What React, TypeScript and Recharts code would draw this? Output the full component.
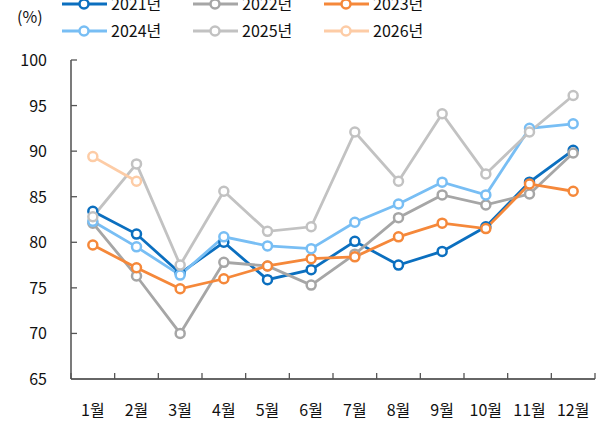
import { LineChart, Line, XAxis, YAxis } from "recharts";

const months = ["1월", "2월", "3월", "4월", "5월", "6월", "7월", "8월", "9월", "10월", "11월", "12월"];
const y2021 = [83.4, 80.9, 76.6, 80.0, 75.9, 77.0, 80.1, 77.5, 79.0, 81.7, 86.6, 90.1];
const y2022 = [82.1, 76.3, 70.0, 77.8, 77.4, 75.3, 78.7, 82.7, 85.2, 84.1, 85.3, 89.8];
const y2023 = [79.7, 77.2, 74.9, 76.0, 77.4, 78.2, 78.4, 80.6, 82.1, 81.5, 86.4, 85.6];
const y2024 = [82.3, 79.5, 76.4, 80.6, 79.6, 79.3, 82.2, 84.2, 86.6, 85.2, 92.5, 93.0];
const y2025 = [82.8, 88.6, 77.5, 85.6, 81.2, 81.7, 92.1, 86.7, 94.1, 87.5, 92.1, 96.1];
const y2026 = [89.4, 86.7];
const yTicks = [65, 70, 75, 80, 85, 90, 95, 100];

const SERIES = [
  { key: "2021년", color: "#0B6FBF", values: y2021 },
  { key: "2022년", color: "#A6A6A6", values: y2022 },
  { key: "2023년", color: "#F5883A", values: y2023 },
  { key: "2024년", color: "#78BEF4", values: y2024 },
  { key: "2025년", color: "#C2C2C2", values: y2025 },
  { key: "2026년", color: "#FDCCA6", values: y2026 },
];

const data = months.map((m, i) => {
  const row: Record<string, string | number | null> = { month: m };
  SERIES.forEach((s) => {
    row[s.key] = i < s.values.length ? s.values[i] : null;
  });
  return row;
});

const W = 602;
const H = 429;
const LEFT = 71;
const RIGHT = 595;
const TOP = 60;
const BOTTOM = 379;
const STEP = (RIGHT - LEFT) / months.length;
const FONT = "'Noto Sans CJK KR', 'Noto Sans', sans-serif";

const XTick = (props: any) => {
  const { x, index } = props;
  return (
    <g>
      <line x1={x - STEP / 2} x2={x - STEP / 2} y1={BOTTOM} y2={BOTTOM - 6} stroke="#555" strokeWidth={1.3} />
      {index === months.length - 1 && (
        <line x1={x + STEP / 2} x2={x + STEP / 2} y1={BOTTOM} y2={BOTTOM - 6} stroke="#555" strokeWidth={1.3} />
      )}
      <text x={x} y={BOTTOM + 37} textAnchor="middle" fontSize={16} fill="#111" fontFamily={FONT}>
        {props.payload.value}
      </text>
    </g>
  );
};

const YTick = (props: any) => {
  const { y, payload } = props;
  return (
    <g>
      {payload.value !== 65 && (
        <line x1={LEFT} x2={LEFT + 6} y1={y} y2={y} stroke="#555" strokeWidth={1.3} />
      )}
      <text x={47} y={y + 6} textAnchor="end" fontSize={16} fill="#111" fontFamily={FONT}>
        {payload.value}
      </text>
    </g>
  );
};

// legend drawn as an overlay so it doesn't take room from the plot
const LegendBox = () => (
  <svg width={W} height={50} style={{ position: "absolute", left: 0, top: 0, pointerEvents: "none" }}>
    <text x={17} y={23} fontSize={16} fill="#111" fontFamily={FONT}>
      (%)
    </text>
    {SERIES.map((s, i) => {
      const col = i % 3;
      const row = Math.floor(i / 3);
      const x0 = 62 + col * 131;
      const cy = 4 + row * 27;
      return (
        <g key={s.key}>
          <line x1={x0} x2={x0 + 45} y1={cy} y2={cy} stroke={s.color} strokeWidth={3} />
          <circle cx={x0 + 22} cy={cy} r={4.5} fill="#fff" stroke={s.color} strokeWidth={2.5} />
          <text x={x0 + 49} y={cy + 6} fontSize={16} fill="#111" fontFamily={FONT}>
            {s.key}
          </text>
        </g>
      );
    })}
  </svg>
);

export default function App() {
  return (
    <div style={{ position: "absolute", left: 0, top: 0, width: W, height: H, background: "#fff" }}>
      <LineChart
        width={W}
        height={H}
        data={data}
        margin={{ top: TOP, right: W - RIGHT, bottom: 0, left: 0 }}
      >
        <XAxis
          dataKey="month"
          height={H - BOTTOM}
          padding={{ left: STEP / 2, right: STEP / 2 }}
          tickLine={false}
          axisLine={{ stroke: "#333", strokeWidth: 1.3 }}
          tick={<XTick />}
          interval={0}
        />
        <YAxis
          width={LEFT}
          domain={[65, 100]}
          ticks={yTicks}
          tickLine={false}
          axisLine={{ stroke: "#333", strokeWidth: 1.3 }}
          tick={<YTick />}
          interval={0}
        />
        {SERIES.map((s) => (
          <Line
            key={s.key}
            dataKey={s.key}
            stroke={s.color}
            strokeWidth={2.8}
            dot={{ r: 4.5, fill: "#fff", stroke: s.color, strokeWidth: 2.5 }}
            activeDot={false}
            isAnimationActive={false}
          />
        ))}
      </LineChart>
      <LegendBox />
    </div>
  );
}
